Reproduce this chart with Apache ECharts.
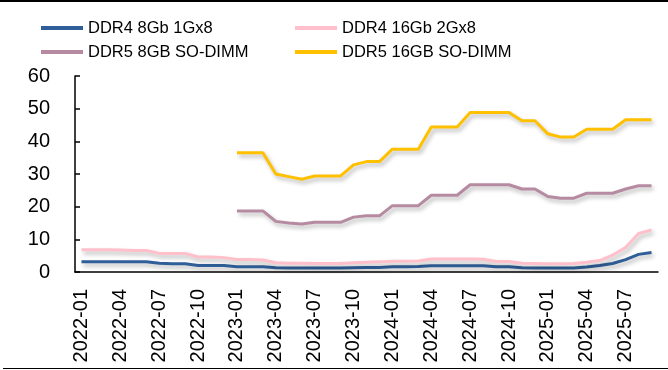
<!DOCTYPE html>
<html>
<head>
<meta charset="utf-8">
<script src="https://cdn.jsdelivr.net/npm/echarts@6/dist/echarts.min.js"></script>
<style>
  html, body { margin: 0; padding: 0; background: #fff; }
  #chart { width: 668px; height: 370px; }
</style>
</head>
<body>
<div id="chart"></div>
<script>
// Monthly price series, 2022-01 .. 2025-09
const months = [
  '2022-01','2022-02','2022-03','2022-04','2022-05','2022-06','2022-07','2022-08','2022-09','2022-10','2022-11','2022-12',
  '2023-01','2023-02','2023-03','2023-04','2023-05','2023-06','2023-07','2023-08','2023-09','2023-10','2023-11','2023-12',
  '2024-01','2024-02','2024-03','2024-04','2024-05','2024-06','2024-07','2024-08','2024-09','2024-10','2024-11','2024-12',
  '2025-01','2025-02','2025-03','2025-04','2025-05','2025-06','2025-07','2025-08','2025-09'
];

const ddr4_8gb = [
  3.15, 3.15, 3.15, 3.15, 3.15, 3.15, 2.65, 2.5, 2.5, 2.0, 2.0, 2.0,
  1.6, 1.6, 1.6, 1.3, 1.2, 1.2, 1.2, 1.2, 1.2, 1.3, 1.35, 1.4,
  1.6, 1.6, 1.7, 1.9, 1.9, 1.9, 1.9, 1.9, 1.6, 1.6, 1.3, 1.2,
  1.2, 1.2, 1.2, 1.5, 2.0, 2.6, 3.8, 5.4, 6.0
];

const ddr4_16gb = [
  6.8, 6.8, 6.8, 6.7, 6.6, 6.6, 5.7, 5.7, 5.7, 4.6, 4.6, 4.4,
  3.8, 3.8, 3.7, 2.85, 2.7, 2.7, 2.6, 2.6, 2.6, 2.8, 2.95, 3.1,
  3.3, 3.3, 3.4, 4.0, 4.0, 4.0, 4.0, 3.9, 3.2, 3.2, 2.7, 2.6,
  2.5, 2.5, 2.6, 3.0, 3.5, 5.2, 7.5, 11.8, 12.9
];

const ddr5_8gb = [
  null, null, null, null, null, null, null, null, null, null, null, null,
  18.7, 18.7, 18.7, 15.5, 15.0, 14.7, 15.2, 15.2, 15.2, 16.8, 17.2, 17.2,
  20.3, 20.3, 20.3, 23.5, 23.5, 23.5, 26.7, 26.7, 26.7, 26.7, 25.4, 25.4,
  23.1, 22.6, 22.6, 24.1, 24.1, 24.1, 25.4, 26.4, 26.4
];

const ddr5_16gb = [
  null, null, null, null, null, null, null, null, null, null, null, null,
  36.5, 36.5, 36.5, 30.0, 29.2, 28.4, 29.4, 29.4, 29.4, 32.8, 33.8, 33.8,
  37.6, 37.6, 37.6, 44.4, 44.4, 44.4, 48.8, 48.8, 48.8, 48.8, 46.3, 46.3,
  42.3, 41.3, 41.3, 43.7, 43.7, 43.7, 46.6, 46.6, 46.6
];

const seriesNames = ['DDR4 8Gb 1Gx8', 'DDR4 16Gb 2Gx8', 'DDR5 8GB SO-DIMM', 'DDR5 16GB SO-DIMM'];
const seriesColors = ['#2F5E98', '#FFC0CB', '#B68BA2', '#FFC000'];
const seriesData = [ddr4_8gb, ddr4_16gb, ddr5_8gb, ddr5_16gb];

const FONT = '"Liberation Sans", Arial, sans-serif';

const chart = echarts.init(document.getElementById('chart'), null, { renderer: 'canvas' });

const legendBase = {
  orient: 'vertical',
  top: 11,
  itemWidth: 42,
  itemHeight: 4,
  itemGap: 0,
  icon: 'rect',
  textStyle: { fontFamily: FONT, fontSize: 16.5, color: '#000', lineHeight: 24 }
};

chart.setOption({
  animation: false,
  backgroundColor: '#fff',
  textStyle: { fontFamily: FONT },
  legend: [
    Object.assign({}, legendBase, { left: 36, data: [seriesNames[0], seriesNames[2]] }),
    Object.assign({}, legendBase, { left: 290, data: [seriesNames[1], seriesNames[3]] })
  ],
  grid: { left: 75, right: 10, top: 76, bottom: 98 },
  xAxis: {
    type: 'category',
    data: months,
    boundaryGap: true,
    axisLine: { lineStyle: { color: '#000', width: 1.5 } },
    axisTick: { inside: true, length: 5, interval: 2, lineStyle: { color: '#000', width: 1.5 } },
    axisLabel: {
      interval: 2,
      rotate: 90,
      margin: 17,
      fontFamily: FONT,
      fontSize: 20,
      color: '#000'
    },
    splitLine: { show: false }
  },
  yAxis: {
    type: 'value',
    min: 0,
    max: 60,
    interval: 10,
    axisLine: { show: true, lineStyle: { color: '#000', width: 1.5 } },
    axisTick: { show: true, inside: true, length: 5, lineStyle: { color: '#000', width: 1.5 } },
    axisLabel: { margin: 25, fontFamily: FONT, fontSize: 20, color: '#000' },
    splitLine: { show: false }
  },
  series: seriesNames.map((name, i) => ({
    name: name,
    type: 'line',
    data: seriesData[i],
    symbol: 'none',
    connectNulls: false,
    color: seriesColors[i],
    lineStyle: {
      width: 3,
      color: seriesColors[i],
      shadowColor: 'rgba(0,0,0,0.28)',
      shadowBlur: 4,
      shadowOffsetX: 2,
      shadowOffsetY: 3
    },
    z: 2 + i
  })),
  graphic: [
    { type: 'rect', shape: { x: 0, y: 0, width: 668, height: 2 }, style: { fill: '#000' }, silent: true },
    { type: 'rect', shape: { x: 3, y: 368, width: 665, height: 1 }, style: { fill: '#000' }, silent: true }
  ]
});
</script>
</body>
</html>
